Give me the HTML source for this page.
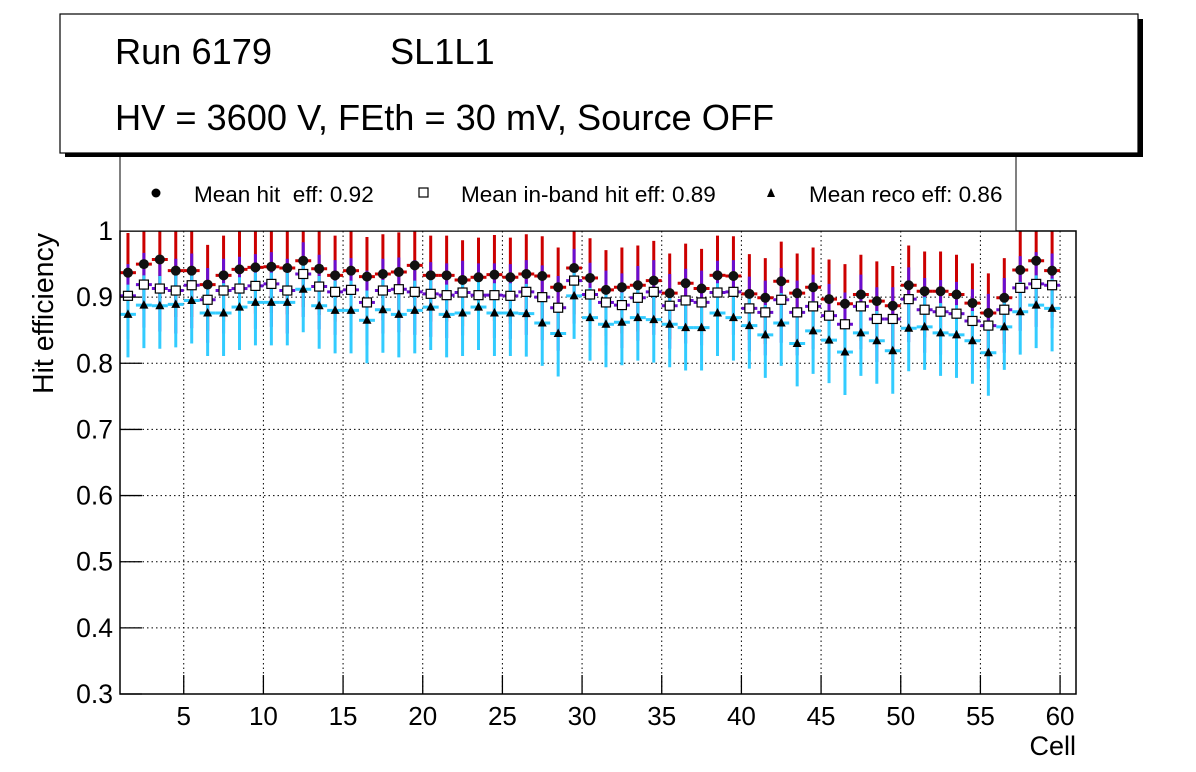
<!DOCTYPE html>
<html><head><meta charset="utf-8"><style>
html,body{margin:0;padding:0;background:#fff;}
svg{display:block;font-family:"Liberation Sans",Arial,sans-serif;}
</style></head><body>
<svg id="chart" width="1196" height="772" viewBox="0 0 1196 772" xmlns="http://www.w3.org/2000/svg">
<rect x="0" y="0" width="1196" height="772" fill="#fff"/>
<g id="grid"></g>
<g id="series"></g>
<rect x="120" y="231" width="956" height="463" fill="none" stroke="#000" stroke-width="1.5"/>
<g id="axes"></g>
<text transform="translate(53,394) rotate(-90)" font-size="28.5" text-anchor="start">Hit efficiency</text>
<text x="1076" y="755" font-size="27" text-anchor="end">Cell</text>
<g>
<rect x="120" y="150" width="896" height="81" fill="#fff" stroke="#000" stroke-width="1"/>
<circle cx="156" cy="193" r="4.5" fill="#000"/>
<text x="194" y="202" font-size="22.5" xml:space="preserve">Mean hit  eff: 0.92</text>
<rect x="419" y="188" width="9" height="9" fill="#fff" stroke="#000" stroke-width="1.2"/>
<text x="461" y="202" font-size="22.5">Mean in-band hit eff: 0.89</text>
<polygon points="771,188 767,197 775,197" fill="#000"/>
<text x="809" y="202" font-size="22.5">Mean reco eff: 0.86</text>
</g>
<g>
<rect x="65" y="19" width="1078" height="138" fill="#000"/>
<rect x="60" y="14" width="1078" height="139" fill="#fff" stroke="#000" stroke-width="1.2"/>
<text x="115" y="64" font-size="36.2">Run 6179</text>
<text x="390" y="64" font-size="36.2">SL1L1</text>
<text x="115" y="130" font-size="36.2">HV = 3600 V, FEth = 30 mV, Source OFF</text>
</g>
</svg>
<script>
const hitEff=[0.937,0.950,0.957,0.940,0.940,0.919,0.933,0.942,0.945,0.946,0.944,0.955,0.943,0.933,0.940,0.931,0.935,0.938,0.948,0.933,
0.933,0.926,0.930,0.934,0.930,0.935,0.932,0.915,0.944,0.929,0.911,0.915,0.918,0.925,0.906,0.921,0.913,0.933,0.932,0.905,
0.899,0.924,0.906,0.915,0.897,0.890,0.904,0.894,0.887,0.918,0.909,0.909,0.904,0.891,0.876,0.899,0.941,0.955,0.940];
const inbandEff=[0.902,0.919,0.913,0.910,0.918,0.896,0.910,0.913,0.917,0.920,0.910,0.935,0.916,0.908,0.911,0.892,0.910,0.912,0.908,0.905,
0.903,0.907,0.903,0.903,0.902,0.908,0.900,0.884,0.925,0.904,0.892,0.888,0.899,0.908,0.887,0.895,0.892,0.907,0.908,0.883,
0.877,0.896,0.877,0.886,0.872,0.859,0.886,0.867,0.867,0.897,0.881,0.878,0.875,0.864,0.857,0.881,0.914,0.920,0.918];
const recoEff=[0.874,0.888,0.887,0.889,0.895,0.876,0.876,0.885,0.892,0.892,0.892,0.912,0.887,0.880,0.880,0.865,0.881,0.874,0.880,0.885,
0.874,0.876,0.885,0.876,0.876,0.875,0.861,0.845,0.902,0.869,0.859,0.862,0.869,0.866,0.859,0.854,0.854,0.876,0.869,0.857,
0.843,0.861,0.830,0.849,0.835,0.817,0.846,0.834,0.819,0.853,0.855,0.846,0.843,0.834,0.816,0.855,0.878,0.888,0.883];
const errUp=[0.06,0.048,0.045];
const errDn=[0.07,0.065,0.065];
const xTicks=[5,10,15,20,25,30,35,40,45,50,55,60];
const yTicks=[0.3,0.4,0.5,0.6,0.7,0.8,0.9,1];

const X0=120,X1=1076,Y0=694,Y1=231,XMIN=1,XMAX=61,YMIN=0.3,YMAX=1.0;
const sx=v=>X0+(v-XMIN)/(XMAX-XMIN)*(X1-X0);
const sy=v=>Y0-(v-YMIN)/(YMAX-YMIN)*(Y0-Y1);
const NS='http://www.w3.org/2000/svg';
function mk(tag,attrs,parent){const e=document.createElementNS(NS,tag);for(const k in attrs)e.setAttribute(k,attrs[k]);parent.appendChild(e);return e;}
const grid=document.getElementById('grid'),axes=document.getElementById('axes'),ser=document.getElementById('series');

xTicks.forEach(t=>{
 const l=mk('line',{x1:sx(t),x2:sx(t),y1:Y1,y2:Y0,stroke:'#000','stroke-width':1,'stroke-dasharray':'1.5,3'},grid);
 
 
 const tk=mk('line',{x1:sx(t),x2:sx(t),y1:Y0,y2:Y0-19,stroke:'#000','stroke-width':1.3},axes);
 
 
 const tx=mk('text',{x:sx(t),y:725,'font-size':26,'text-anchor':'middle'},axes);
 tx.textContent=t;
 
 
});
yTicks.forEach(t=>{
 if(t>0.31&&t<0.99){
 const l=mk('line',{x1:X0,x2:X1,y1:sy(t),y2:sy(t),stroke:'#000','stroke-width':1,'stroke-dasharray':'1.5,3'},grid);
 
 }
 const tk=mk('line',{x1:X0,x2:X0+22,y1:sy(t),y2:sy(t),stroke:'#000','stroke-width':1.3},axes);
 
 
 const tx=mk('text',{x:113,y:sy(t)+9,'font-size':26.5,'text-anchor':'end'},axes);
 tx.textContent=(t===1?'1':t.toFixed(1));
 
 
});

const series=[{d:hitEff,col:'#cc0000',name:'hit'},{d:inbandEff,col:'#6a0dcf',name:'inband'},{d:recoEff,col:'#33ccff',name:'reco'}];
const clip=v=>Math.min(YMAX,Math.max(YMIN,v));
series.forEach((s,si)=>{
 const g=mk('g',{},ser);
 
 
 s.d.forEach((v,i)=>{
  const c=i+1.5,x=sx(c);
  mk('line',{x1:x,x2:x,y1:sy(clip(v+errUp[si])),y2:sy(clip(v-errDn[si])),stroke:s.col,'stroke-width':3},g);
  mk('line',{x1:sx(c-0.5),x2:sx(c+0.5),y1:sy(v),y2:sy(v),stroke:s.col,'stroke-width':3},g);
 });
});
series.forEach((s,si)=>{
 s.d.forEach((v,i)=>{
  const x=sx(i+1.5),y=sy(v);let m;
  if(si===0)m=mk('circle',{cx:x,cy:y,r:5,fill:'#111'},ser);
  else if(si===1)m=mk('rect',{x:x-4.5,y:y-4.5,width:9,height:9,fill:'#fff',stroke:'#000','stroke-width':1.2},ser);
  else m=mk('polygon',{points:`${x},${y-5} ${x-4.5},${y+3.5} ${x+4.5},${y+3.5}`,fill:'#000'},ser);
  
  
 });
});
</script>
</body></html>
